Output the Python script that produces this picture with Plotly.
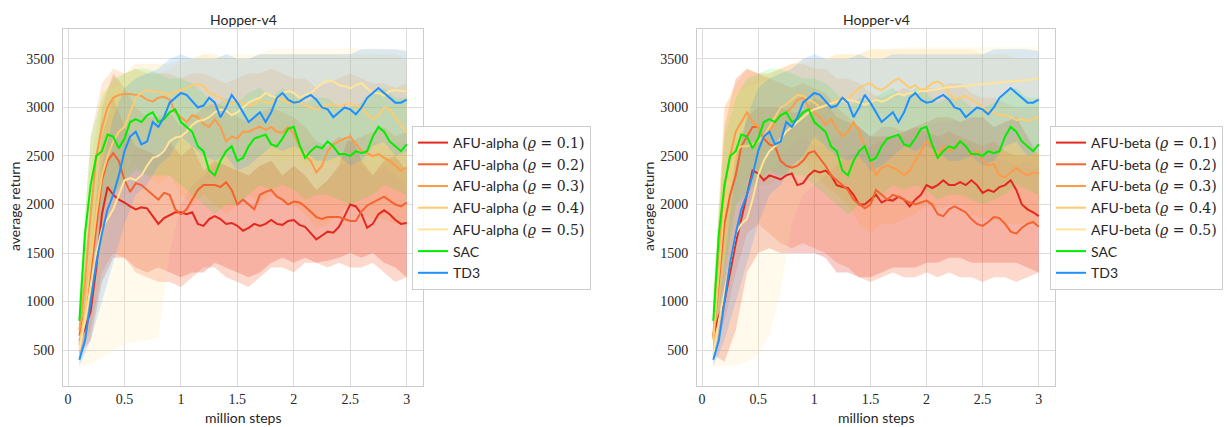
import plotly.graph_objects as go

# ---------------- data ----------------
steps = [0.1, 0.15, 0.2, 0.25, 0.3, 0.35, 0.4, 0.45, 0.5, 0.55, 0.6, 0.65, 0.7, 0.75, 0.8, 0.85, 0.9, 0.95,
         1.0, 1.05, 1.1, 1.15, 1.2, 1.25, 1.3, 1.35, 1.4, 1.45, 1.5, 1.55, 1.6, 1.65, 1.7, 1.75, 1.8, 1.85,
         1.9, 1.95, 2.0, 2.05, 2.1, 2.15, 2.2, 2.25, 2.3, 2.35, 2.4, 2.45, 2.5, 2.55, 2.6, 2.65, 2.7, 2.75,
         2.8, 2.85, 2.9, 2.95, 3.0]
band_steps = [0.1, 0.2, 0.3, 0.4, 0.5, 0.6, 0.7, 0.8, 0.9, 1.0, 1.1, 1.2, 1.3, 1.4, 1.5, 1.6, 1.7, 1.8, 1.9,
              2.0, 2.1, 2.2, 2.3, 2.4, 2.5, 2.6, 2.7, 2.8, 2.9, 3.0]

# left panel: AFU-alpha
alpha_01 = [590, 720, 900, 1350, 1900, 2180, 2100, 2050, 2020, 1980, 1950, 1970, 1960, 1880, 1800, 1860, 1890, 1920,
            1920, 1900, 1920, 1800, 1780, 1850, 1880, 1850, 1800, 1810, 1780, 1730, 1760, 1800, 1780, 1800, 1840, 1800,
            1790, 1830, 1840, 1790, 1770, 1710, 1640, 1680, 1720, 1710, 1770, 1880, 2000, 1980, 1900, 1760, 1800, 1900,
            1940, 1900, 1840, 1800, 1810]
alpha_02 = [650, 900, 1300, 1800, 2250, 2450, 2530, 2450, 2250, 2130, 2220, 2200, 2150, 2100, 2050, 2120, 2100, 1950,
            1900, 1950, 2050, 2150, 2200, 2200, 2200, 2180, 2230, 2150, 2000, 2050, 2000, 1950, 2100, 2130, 2150, 2080,
            2050, 2000, 2030, 2020, 1980, 1930, 1870, 1850, 1870, 1870, 1870, 1850, 1830, 1830, 1930, 1990, 2020, 2050,
            2080, 2040, 2000, 1980, 2020]
alpha_03 = [700, 1200, 1900, 2500, 2800, 3000, 3100, 3130, 3140, 3140, 3130, 3120, 3080, 3060, 3100, 3110, 3080, 2950,
            2900, 2850, 2920, 2900, 2830, 2800, 2880, 2800, 2650, 2700, 2680, 2750, 2750, 2780, 2800, 2770, 2800, 2750,
            2740, 2800, 2730, 2600, 2500, 2450, 2330, 2400, 2550, 2620, 2650, 2680, 2700, 2620, 2550, 2530, 2500, 2520,
            2480, 2450, 2400, 2350, 2380]
alpha_04 = [550, 900, 1400, 1900, 2300, 2500, 2650, 2750, 2800, 2950, 3100, 3150, 3180, 3170, 3160, 3150, 3130, 3160,
            3180, 3200, 3230, 3240, 3220, 3150, 3130, 3100, 3050, 3040, 3070, 3050, 3020, 3030, 3080, 3050, 3050, 3100,
            3080, 3050, 3050, 3060, 3020, 3000, 2980, 3000, 3030, 3030, 3010, 3030, 3040, 3020, 3000, 2930, 2880, 2920,
            3000, 2980, 2900, 2820, 2740]
alpha_05 = [500, 800, 1150, 1500, 1750, 1850, 1950, 2100, 2250, 2270, 2250, 2300, 2400, 2480, 2500, 2550, 2650, 2690,
            2700, 2750, 2820, 2860, 2870, 2900, 2950, 2980, 2970, 2920, 2950, 3000, 3050, 3080, 3100, 3150, 3120, 3100,
            3150, 3170, 3150, 3100, 3130, 3150, 3200, 3250, 3280, 3270, 3230, 3220, 3200, 3230, 3250, 3200, 3150, 3150,
            3120, 3170, 3180, 3170, 3170]

# right panel: AFU-beta
beta_01 = [650, 850, 1000, 1300, 1600, 1850, 2100, 2350, 2320, 2250, 2300, 2280, 2260, 2300, 2320, 2200, 2220, 2300,
           2350, 2330, 2350, 2300, 2200, 2180, 2170, 2100, 2000, 2000, 2050, 2100, 2020, 2050, 2040, 2080, 2050, 1980,
           2050, 2100, 2200, 2170, 2200, 2250, 2200, 2200, 2230, 2200, 2250, 2200, 2120, 2150, 2130, 2180, 2200, 2250,
           2150, 2000, 1950, 1920, 1880]
beta_02 = [620, 1200, 1800, 2100, 2300, 2600, 2700, 2800, 2800, 2680, 2620, 2600, 2450, 2400, 2380, 2400, 2450, 2530,
           2550, 2480, 2400, 2300, 2250, 2200, 2150, 2050, 2000, 1960, 2000, 2150, 2100, 2050, 2100, 2080, 2050, 2020,
           2000, 2020, 2040, 2000, 1900, 1880, 1950, 1980, 1950, 1920, 1850, 1800, 1780, 1820, 1870, 1860, 1800, 1720,
           1700, 1760, 1800, 1820, 1770]
beta_03 = [650, 1400, 2200, 2500, 2750, 2850, 2950, 2850, 2800, 2700, 2750, 2850, 2920, 2950, 3000, 3080, 3100, 3000,
           2950, 2900, 2820, 2880, 2780, 2700, 2750, 2850, 2750, 2600, 2450, 2300, 2380, 2400, 2380, 2350, 2300, 2350,
           2450, 2550, 2650, 2600, 2500, 2600, 2550, 2580, 2650, 2600, 2500, 2550, 2450, 2400, 2420, 2300, 2280, 2330,
           2380, 2330, 2300, 2330, 2320]
beta_04 = [600, 1300, 2000, 2300, 2550, 2600, 2600, 2620, 2650, 2700, 2800, 2900, 3000, 3030, 3080, 3130, 3120, 3080,
           3050, 3000, 3020, 3050, 3080, 3100, 3080, 3150, 3200, 3230, 3250, 3200, 3180, 3220, 3270, 3300, 3250, 3200,
           3230, 3180, 3200, 3250, 3270, 3230, 3150, 3080, 3100, 3120, 3080, 3050, 3000, 2950, 2950, 2920, 2920, 2900,
           2870, 2880, 2860, 2880, 2900]
beta_05 = [450, 800, 1100, 1400, 1700, 1800, 1850, 2050, 2300, 2450, 2550, 2600, 2680, 2750, 2800, 2850, 2900, 2950,
           2980, 3000, 3020, 3040, 3060, 3070, 3080, 3070, 3050, 3030, 3050, 3080, 3060, 3080, 3120, 3140, 3130, 3150,
           3150, 3170, 3170, 3180, 3190, 3200, 3210, 3210, 3220, 3220, 3230, 3240, 3240, 3250, 3250, 3260, 3260, 3270,
           3270, 3280, 3280, 3290, 3300]

# baselines (same in both panels)
sac = [800, 1700, 2200, 2500, 2550, 2720, 2700, 2580, 2680, 2850, 2880, 2850, 2920, 2950, 2850, 2880, 2950, 2980,
       2850, 2800, 2750, 2600, 2550, 2350, 2300, 2450, 2550, 2600, 2450, 2480, 2600, 2680, 2700, 2720, 2620, 2600,
       2680, 2780, 2800, 2620, 2480, 2550, 2600, 2580, 2650, 2600, 2520, 2520, 2500, 2550, 2530, 2550, 2700, 2800,
       2750, 2650, 2600, 2550, 2620]
td3 = [400, 600, 1000, 1400, 1700, 1950, 2100, 2300, 2550, 2700, 2750, 2620, 2650, 2850, 2800, 2900, 3050, 3100,
       3150, 3130, 3060, 3000, 3020, 3100, 3050, 2900, 3000, 3130, 3050, 2950, 2850, 2900, 2950, 2850, 2950, 3100,
       3150, 3080, 3050, 3060, 3100, 3130, 3080, 3000, 2980, 2900, 2950, 3000, 2980, 2930, 3000, 3100, 3150, 3200,
       3150, 3100, 3050, 3050, 3080]

# bands (lower / upper) on band_steps
alpha_01_lo = [450, 600, 1200, 1450, 1450, 1350, 1300, 1350, 1300, 1250, 1300, 1300, 1400, 1350, 1300, 1250, 1300, 1400, 1450, 1400, 1450, 1400, 1420, 1450, 1500, 1450, 1500, 1400, 1350, 1250]
alpha_01_hi = [750, 1500, 2700, 3100, 2800, 2600, 2550, 2500, 2650, 2500, 2600, 2350, 2450, 2400, 2350, 2300, 2400, 2450, 2300, 2400, 2300, 2150, 2250, 2400, 2750, 2450, 2300, 2450, 2500, 2350]
alpha_02_lo = [450, 700, 1300, 1500, 1450, 1300, 1250, 1200, 1200, 1150, 1250, 1350, 1350, 1250, 1200, 1150, 1250, 1350, 1350, 1300, 1400, 1400, 1350, 1400, 1350, 1350, 1400, 1300, 1200, 1250]
alpha_02_hi = [850, 2000, 3000, 3350, 3200, 3000, 2900, 2900, 2950, 2800, 2900, 3000, 3050, 3000, 2900, 2850, 2950, 3000, 2950, 2900, 2800, 2650, 2600, 2700, 2650, 2700, 2750, 2800, 2700, 2750]
alpha_03_lo = [400, 800, 1700, 2100, 2300, 2400, 2300, 2200, 2300, 2100, 2000, 2100, 2000, 1900, 2000, 2100, 2000, 2100, 2050, 2000, 1900, 1750, 1800, 1900, 2000, 1900, 1850, 1850, 1800, 1800]
alpha_03_hi = [1000, 2700, 3250, 3400, 3350, 3400, 3350, 3350, 3350, 3300, 3350, 3350, 3300, 3250, 3300, 3350, 3350, 3400, 3350, 3300, 3300, 3200, 3250, 3300, 3350, 3300, 3250, 3250, 3200, 3250]
alpha_04_lo = [350, 700, 1400, 2000, 2200, 2600, 2700, 2700, 2600, 2500, 2700, 2600, 2500, 2400, 2500, 2450, 2500, 2500, 2450, 2500, 2400, 2400, 2450, 2400, 2450, 2400, 2300, 2400, 2300, 2200]
alpha_04_hi = [900, 2400, 3150, 3250, 3350, 3450, 3450, 3450, 3450, 3500, 3500, 3550, 3550, 3500, 3500, 3500, 3550, 3550, 3550, 3550, 3550, 3550, 3550, 3550, 3550, 3550, 3550, 3550, 3550, 3500]
alpha_05_lo = [330, 350, 420, 500, 560, 580, 600, 620, 1500, 2000, 2200, 2300, 2400, 2500, 2500, 2550, 2600, 2600, 2650, 2600, 2600, 2650, 2700, 2700, 2650, 2700, 2650, 2650, 2650, 2650]
alpha_05_hi = [700, 2500, 3150, 3200, 3250, 3300, 3300, 3350, 3400, 3450, 3500, 3550, 3500, 3550, 3550, 3550, 3550, 3600, 3600, 3600, 3600, 3600, 3600, 3600, 3620, 3600, 3620, 3600, 3600, 3600]

beta_01_lo = [450, 380, 700, 1300, 1500, 1550, 1500, 1500, 1500, 1500, 1450, 1300, 1300, 1250, 1250, 1300, 1350, 1350, 1350, 1400, 1400, 1450, 1450, 1400, 1400, 1400, 1400, 1400, 1350, 1300]
beta_01_hi = [850, 1700, 2500, 2900, 3000, 3000, 3000, 2950, 2950, 3100, 3050, 2900, 2850, 2800, 2700, 2700, 2700, 2750, 2800, 2850, 2900, 2900, 2850, 2900, 2900, 2800, 2850, 2900, 2700, 2500]
beta_02_lo = [450, 800, 1300, 1700, 1800, 1700, 1600, 1550, 1600, 1550, 1500, 1400, 1350, 1250, 1200, 1250, 1300, 1250, 1250, 1300, 1250, 1300, 1250, 1250, 1200, 1250, 1250, 1200, 1250, 1300]
beta_02_hi = [900, 2800, 3300, 3400, 3350, 3300, 3250, 3200, 3250, 3200, 3150, 3000, 2900, 2800, 2700, 2800, 2800, 2750, 2800, 2750, 2700, 2750, 2700, 2650, 2600, 2650, 2550, 2500, 2500, 2550]
beta_03_lo = [450, 1200, 2000, 2300, 2200, 2200, 2300, 2400, 2500, 2300, 2200, 2100, 2000, 1800, 1700, 1800, 1800, 1850, 1900, 2000, 1950, 2000, 2000, 1900, 1850, 1850, 1800, 1800, 1800, 1800]
beta_03_hi = [1000, 3000, 3250, 3400, 3350, 3350, 3400, 3450, 3450, 3400, 3400, 3300, 3300, 3250, 3150, 3100, 3150, 3200, 3150, 3200, 3200, 3250, 3250, 3150, 3100, 3100, 3050, 3000, 3000, 3000]
beta_04_lo = [330, 900, 1800, 2200, 2300, 2300, 2500, 2600, 2700, 2600, 2600, 2700, 2700, 2800, 2750, 2800, 2800, 2700, 2750, 2700, 2700, 2600, 2650, 2600, 2500, 2500, 2450, 2400, 2450, 2400]
beta_04_hi = [1000, 3000, 3200, 3250, 3300, 3350, 3400, 3450, 3500, 3500, 3500, 3550, 3550, 3550, 3600, 3600, 3600, 3600, 3600, 3600, 3600, 3600, 3600, 3600, 3550, 3550, 3550, 3500, 3500, 3500]
beta_05_lo = [330, 330, 340, 380, 450, 650, 1100, 1800, 2100, 2200, 2300, 2400, 2500, 2550, 2600, 2650, 2700, 2750, 2800, 2800, 2850, 2850, 2900, 2900, 2900, 2950, 2950, 2950, 3000, 3000]
beta_05_hi = [700, 2700, 3150, 3200, 3250, 3300, 3350, 3400, 3450, 3500, 3500, 3550, 3550, 3550, 3600, 3600, 3600, 3620, 3620, 3620, 3620, 3620, 3620, 3620, 3620, 3620, 3620, 3620, 3620, 3620]

sac_lo = [500, 1300, 2000, 2100, 2250, 2350, 2300, 2300, 2300, 2200, 2100, 2000, 1900, 2000, 2000, 2100, 2200, 2150, 2200, 2150, 2050, 2100, 2100, 2050, 2000, 2050, 2100, 2200, 2150, 2100]
sac_hi = [1100, 2700, 3100, 3300, 3350, 3400, 3400, 3350, 3300, 3300, 3250, 3150, 3000, 3100, 3050, 3150, 3200, 3100, 3200, 3150, 3050, 3100, 3100, 3000, 3000, 3050, 3150, 3200, 3100, 3100]
td3_lo = [330, 600, 1000, 1400, 1800, 2100, 2200, 2400, 2500, 2700, 2600, 2500, 2450, 2500, 2350, 2400, 2500, 2600, 2550, 2600, 2550, 2450, 2450, 2500, 2400, 2450, 2600, 2650, 2500, 2550]
td3_hi = [500, 1400, 2400, 2900, 3200, 3300, 3350, 3400, 3500, 3550, 3500, 3500, 3500, 3550, 3500, 3500, 3550, 3550, 3550, 3550, 3550, 3550, 3550, 3550, 3550, 3600, 3600, 3600, 3600, 3580]

rhos = ["0.1", "0.2", "0.3", "0.4", "0.5"]
afu_colors = ["#e3281f", "#f5622e", "#fd9b48", "#fdcb72", "#ffe49a"]
sac_color = "#00ee00"
td3_color = "#1e90ff"
x_ticks = [0, 0.5, 1, 1.5, 2, 2.5, 3]
x_tick_text = ["0", "0.5", "1", "1.5", "2", "2.5", "3"]
y_ticks = [500, 1000, 1500, 2000, 2500, 3000, 3500]
band_alphas = [0.24, 0.24, 0.22, 0.2, 0.2, 0.12, 0.16]

# ---------------- figure ----------------
W, H = 1227, 427
SANS = "Lato, DejaVu Sans, sans-serif"
SERIF = "Liberation Serif, Times New Roman, DejaVu Serif, serif"
TXT = "#262626"


def rgba(hexc, a):
    h = hexc.lstrip("#")
    return "rgba(%d,%d,%d,%.3f)" % (int(h[0:2], 16), int(h[2:4], 16), int(h[4:6], 16), a)


panels = [
    dict(name="alpha", xa="x", ya="y", legend="legend",
         means=[alpha_01, alpha_02, alpha_03, alpha_04, alpha_05],
         los=[alpha_01_lo, alpha_02_lo, alpha_03_lo, alpha_04_lo, alpha_05_lo],
         his=[alpha_01_hi, alpha_02_hi, alpha_03_hi, alpha_04_hi, alpha_05_hi]),
    dict(name="beta", xa="x2", ya="y2", legend="legend2",
         means=[beta_01, beta_02, beta_03, beta_04, beta_05],
         los=[beta_01_lo, beta_02_lo, beta_03_lo, beta_04_lo, beta_05_lo],
         his=[beta_01_hi, beta_02_hi, beta_03_hi, beta_04_hi, beta_05_hi]),
]

fig = go.Figure()
for p in panels:
    series = []
    for i in range(5):
        label = ("AFU-%s <span style=\"font-family:DejaVu Serif\">(<i>\u03f1</i> = %s)</span>"
                 % (p["name"], rhos[i]))
        series.append((label, afu_colors[i], p["means"][i], p["los"][i], p["his"][i]))
    series.append(("SAC", sac_color, sac, sac_lo, sac_hi))
    series.append(("TD3", td3_color, td3, td3_lo, td3_hi))

    for k, (label, col, m, lo, hi) in enumerate(series):
        fig.add_trace(go.Scatter(
            x=band_steps + band_steps[::-1], y=hi + lo[::-1],
            fill="toself", fillcolor=rgba(col, band_alphas[k]), line=dict(width=0),
            mode="lines", hoverinfo="skip", showlegend=False,
            xaxis=p["xa"], yaxis=p["ya"], legendgroup=p["name"] + str(k)))
    for k, (label, col, m, lo, hi) in enumerate(series):
        fig.add_trace(go.Scatter(
            x=steps, y=m, mode="lines", name=label,
            line=dict(color=col, width=2),
            xaxis=p["xa"], yaxis=p["ya"], legend=p["legend"],
            legendgroup=p["name"] + str(k)))

axis_common = dict(
    showgrid=True, gridcolor="#dcdcdc", gridwidth=1,
    showline=True, linecolor="#cccccc", linewidth=1, mirror=True,
    zeroline=False, ticks="", tickfont=dict(family=SERIF, size=14, color=TXT),
)
xrange = [-0.045, 3.145]
yrange = [129, 3809]
y0, y1 = (H - 386) / H, (H - 29) / H

fig.update_layout(
    width=W, height=H, margin=dict(l=0, r=0, t=0, b=0),
    paper_bgcolor="white", plot_bgcolor="white",
    xaxis=dict(domain=[63 / W, 423 / W], range=xrange, tickvals=x_ticks, ticktext=x_tick_text,
               anchor="y", ticklabelstandoff=0, **axis_common),
    yaxis=dict(domain=[y0, y1], range=yrange, tickvals=y_ticks, anchor="x",
               ticklabelstandoff=5, **axis_common),
    xaxis2=dict(domain=[697 / W, 1055 / W], range=xrange, tickvals=x_ticks, ticktext=x_tick_text,
                anchor="y2", ticklabelstandoff=0, **axis_common),
    yaxis2=dict(domain=[y0, y1], range=yrange, tickvals=y_ticks, anchor="x2",
                ticklabelstandoff=5, **axis_common),
    legend=dict(x=412 / W, y=1 - 126 / H, xanchor="left", yanchor="top",
                bgcolor="rgba(255,255,255,0.85)", bordercolor="#cccccc", borderwidth=1,
                font=dict(family=SANS, size=14, color=TXT), traceorder="grouped",
                tracegroupgap=0.5),
    legend2=dict(x=1050 / W, y=1 - 126 / H, xanchor="left", yanchor="top",
                 bgcolor="rgba(255,255,255,0.85)", bordercolor="#cccccc", borderwidth=1,
                 font=dict(family=SANS, size=14, color=TXT), traceorder="grouped",
                 tracegroupgap=0.5),
    showlegend=True,
)

annos = []
for cx, ylx in [((63 + 423) / 2, 14), ((697 + 1055) / 2, 648)]:
    annos.append(dict(text="Hopper-v4", x=cx / W, y=1 - 19 / H, xref="paper", yref="paper",
                      showarrow=False, xanchor="center", yanchor="middle",
                      font=dict(family=SANS, size=14, color=TXT)))
    annos.append(dict(text="million steps", x=cx / W, y=1 - 417 / H, xref="paper", yref="paper",
                      showarrow=False, xanchor="center", yanchor="middle",
                      font=dict(family=SANS, size=14, color=TXT)))
    annos.append(dict(text="average return", x=ylx / W, y=1 - 207 / H, xref="paper", yref="paper",
                      showarrow=False, xanchor="center", yanchor="middle", textangle=-90,
                      font=dict(family=SANS, size=14, color=TXT)))
fig.update_layout(annotations=annos)

fig.write_html("out.html")
